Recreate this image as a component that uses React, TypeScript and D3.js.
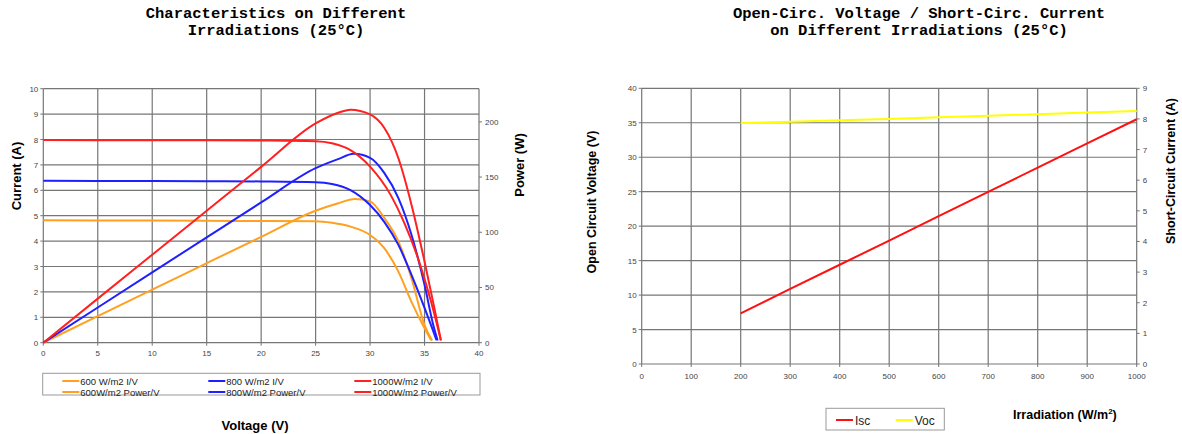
import React, { useEffect, useRef } from "react";
import * as d3 from "d3";

// ---- left chart: I/V and P/V at three irradiations ----
const ivVolt600 = [0, 5, 10, 15, 20, 25, 26.5, 28.2, 30, 31.3, 32.6, 33.8, 35, 35.6];
const ivCur600 = [4.82, 4.81, 4.81, 4.8, 4.79, 4.78, 4.72, 4.57, 4.24, 3.72, 2.8, 1.61, 0.57, 0.1];
const ivVolt800 = [0, 5, 10, 15, 20, 25, 26.5, 28.2, 30, 31.3, 32.6, 33.8, 35, 36.1];
const ivCur800 = [6.38, 6.37, 6.37, 6.36, 6.35, 6.32, 6.25, 6.01, 5.42, 4.76, 3.85, 2.67, 1.37, 0.1];
const ivVolt1000 = [0, 5, 10, 15, 20, 25, 26.5, 28.2, 30, 31.9, 33.1, 34.3, 35.6, 36.5];
const ivCur1000 = [7.98, 7.97, 7.97, 7.97, 7.96, 7.93, 7.85, 7.58, 6.93, 5.81, 4.76, 3.45, 1.61, 0.1];

const pvVolt600 = [0, 5, 10, 15, 20, 25, 27, 28.6, 30, 31.3, 32.6, 33.8, 35, 35.7];
const pvPow600 = [0, 24, 48.1, 72, 95.8, 119.5, 126, 130.2, 128, 113, 91.7, 58.5, 16, 2];
const pvVolt800 = [0, 5, 10, 15, 20, 25, 27, 28.5, 30, 31.3, 32.6, 33.8, 35, 35.8, 36.2];
const pvPow800 = [0, 31.9, 63.7, 95.4, 127, 158, 166, 171, 167.4, 153.8, 131, 97.8, 52.4, 16, 2];
const pvVolt1000 = [0, 5, 10, 15, 20, 25, 27, 28.2, 30, 31.3, 32.6, 33.8, 35, 35.9, 36.5];
const pvPow1000 = [0, 39.9, 79.7, 119.5, 159.2, 198.5, 208, 211, 206.7, 194.6, 167, 125, 73.5, 31.5, 2];

const voltTicks = [0, 5, 10, 15, 20, 25, 30, 35, 40];
const currentTicks = [0, 1, 2, 3, 4, 5, 6, 7, 8, 9, 10];
const powerTicks = [0, 50, 100, 150, 200];

const legendLeftRow1 = ["600 W/m2 I/V", "800 W/m2 I/V", "1000W/m2 I/V"];
const legendLeftRow2 = ["600W/m2 Power/V", "800W/m2 Power/V", "1000W/m2 Power/V"];
const seriesColors = ["#ffa020", "#2020ff", "#ff2020"];

// ---- right chart: Voc / Isc against irradiation ----
const irradiation = [200, 300, 400, 500, 600, 700, 800, 900, 1000];
const isc = [1.65, 2.45, 3.24, 4.03, 4.83, 5.62, 6.41, 7.2, 7.99];
const voc = [34.95, 35.15, 35.35, 35.55, 35.8, 36.0, 36.25, 36.5, 36.7];
const irrTicks = [0, 100, 200, 300, 400, 500, 600, 700, 800, 900, 1000];
const vocTicks = [0, 5, 10, 15, 20, 25, 30, 35, 40];
const iscTicks = [0, 1, 2, 3, 4, 5, 6, 7, 8, 9];

const SANS = "'Liberation Sans', Arial, sans-serif";
const MONO = "'Liberation Mono', 'Courier New', monospace";
const GRID = "#767676";
const TICKTXT = "#444";

export default function App() {
  const ref = useRef<SVGSVGElement>(null);

  useEffect(() => {
    const svg = d3.select(ref.current);
    svg.selectAll("*").remove();

    // titles
    const titles = [
      { x: 276, lines: ["Characteristics on Different", "Irradiations (25°C)"] },
      { x: 919, lines: ["Open-Circ. Voltage / Short-Circ. Current", "on Different Irradiations (25°C)"] },
    ];
    titles.forEach((t) => {
      t.lines.forEach((l, i) => {
        svg.append("text")
          .attr("x", t.x).attr("y", 18 + i * 17)
          .attr("text-anchor", "middle")
          .style("font-family", MONO).style("font-size", "15.5px").style("font-weight", "bold")
          .text(l);
      });
    });

    // ===== left chart =====
    const x = d3.scaleLinear().domain([0, 40]).range([43.3, 479]);
    const yI = d3.scaleLinear().domain([0, 10]).range([342.7, 88.7]);
    const yP = d3.scaleLinear().domain([0, 230]).range([342.7, 88.7]);
    const gL = svg.append("g");

    voltTicks.forEach((v) => {
      gL.append("line")
        .attr("x1", x(v)).attr("x2", x(v)).attr("y1", yI(0)).attr("y2", yI(10))
        .style("stroke", GRID).style("stroke-width", 1.2);
      gL.append("line")
        .attr("x1", x(v)).attr("x2", x(v)).attr("y1", yI(0)).attr("y2", yI(0) + 3)
        .style("stroke", GRID);
      gL.append("text")
        .attr("x", x(v)).attr("y", yI(0) + 13)
        .attr("text-anchor", "middle")
        .style("font-family", SANS).style("font-size", "8px").style("fill", TICKTXT)
        .text(v);
    });
    currentTicks.forEach((c) => {
      gL.append("line")
        .attr("x1", x(0)).attr("x2", x(40)).attr("y1", yI(c)).attr("y2", yI(c))
        .style("stroke", GRID).style("stroke-width", 1.2);
      gL.append("line")
        .attr("x1", x(0) - 3).attr("x2", x(0)).attr("y1", yI(c)).attr("y2", yI(c))
        .style("stroke", GRID);
      gL.append("text")
        .attr("x", x(0) - 5).attr("y", yI(c) + 3)
        .attr("text-anchor", "end")
        .style("font-family", SANS).style("font-size", "8px").style("fill", TICKTXT)
        .text(c);
    });
    powerTicks.forEach((p) => {
      gL.append("line")
        .attr("x1", x(40)).attr("x2", x(40) + 3).attr("y1", yP(p)).attr("y2", yP(p))
        .style("stroke", GRID);
      gL.append("text")
        .attr("x", x(40) + 6).attr("y", yP(p) + 3)
        .style("font-family", SANS).style("font-size", "8px").style("fill", TICKTXT)
        .text(p);
    });

    const ivSets = [
      { v: ivVolt600, y: ivCur600 },
      { v: ivVolt800, y: ivCur800 },
      { v: ivVolt1000, y: ivCur1000 },
    ];
    const pvSets = [
      { v: pvVolt600, y: pvPow600 },
      { v: pvVolt800, y: pvPow800 },
      { v: pvVolt1000, y: pvPow1000 },
    ];
    const lineI = d3.line<[number, number]>().x((d) => x(d[0])).y((d) => yI(d[1])).curve(d3.curveMonotoneX);
    const lineP = d3.line<[number, number]>().x((d) => x(d[0])).y((d) => yP(d[1])).curve(d3.curveMonotoneX);

    [0, 1, 2].forEach((i) => {
      const iv = ivSets[i].v.map((v, k) => [v, ivSets[i].y[k]] as [number, number]);
      const pv = pvSets[i].v.map((v, k) => [v, pvSets[i].y[k]] as [number, number]);
      gL.append("path").attr("d", lineI(iv))
        .style("fill", "none").style("stroke", seriesColors[i]).style("stroke-width", 2);
      gL.append("path").attr("d", lineP(pv))
        .style("fill", "none").style("stroke", seriesColors[i]).style("stroke-width", 2);
    });

    // axis labels
    gL.append("text")
      .attr("transform", "translate(21,176) rotate(-90)")
      .attr("text-anchor", "middle")
      .style("font-family", SANS).style("font-size", "13px").style("font-weight", "bold")
      .text("Current (A)");
    gL.append("text")
      .attr("transform", "translate(524,165) rotate(-90)")
      .attr("text-anchor", "middle")
      .style("font-family", SANS).style("font-size", "13px").style("font-weight", "bold")
      .text("Power (W)");
    gL.append("text")
      .attr("x", 255).attr("y", 430)
      .attr("text-anchor", "middle")
      .style("font-family", SANS).style("font-size", "13px").style("font-weight", "bold")
      .text("Voltage (V)");

    // legend
    gL.append("rect")
      .attr("x", 42.7).attr("y", 373.3).attr("width", 437.3).attr("height", 21.7)
      .style("fill", "white").style("stroke", "#999");
    const colX = [62.3, 208.3, 354.3];
    [legendLeftRow1, legendLeftRow2].forEach((row, r) => {
      row.forEach((label, c) => {
        const yy = 381 + r * 11;
        gL.append("line")
          .attr("x1", colX[c]).attr("x2", colX[c] + 17).attr("y1", yy).attr("y2", yy)
          .style("stroke", seriesColors[c]).style("stroke-width", 2);
        gL.append("text")
          .attr("x", colX[c] + 18).attr("y", yy + 3.5)
          .style("font-family", SANS).style("font-size", "9.5px").style("fill", "#222")
          .text(label);
      });
    });

    // ===== right chart =====
    const xr = d3.scaleLinear().domain([0, 1000]).range([641.7, 1136.7]);
    const yV = d3.scaleLinear().domain([0, 40]).range([364, 88.3]);
    const yA = d3.scaleLinear().domain([0, 9]).range([364, 88.3]);
    const gR = svg.append("g");

    irrTicks.forEach((t) => {
      gR.append("line")
        .attr("x1", xr(t)).attr("x2", xr(t)).attr("y1", yV(0)).attr("y2", yV(40))
        .style("stroke", GRID).style("stroke-width", 1.2);
      gR.append("line")
        .attr("x1", xr(t)).attr("x2", xr(t)).attr("y1", yV(0)).attr("y2", yV(0) + 3)
        .style("stroke", GRID);
      gR.append("text")
        .attr("x", xr(t)).attr("y", yV(0) + 15)
        .attr("text-anchor", "middle")
        .style("font-family", SANS).style("font-size", "8px").style("fill", TICKTXT)
        .text(t);
    });
    vocTicks.forEach((t) => {
      gR.append("line")
        .attr("x1", xr(0)).attr("x2", xr(1000)).attr("y1", yV(t)).attr("y2", yV(t))
        .style("stroke", GRID).style("stroke-width", 1.2);
      gR.append("line")
        .attr("x1", xr(0) - 3).attr("x2", xr(0)).attr("y1", yV(t)).attr("y2", yV(t))
        .style("stroke", GRID);
      gR.append("text")
        .attr("x", xr(0) - 5).attr("y", yV(t) + 3)
        .attr("text-anchor", "end")
        .style("font-family", SANS).style("font-size", "8px").style("fill", TICKTXT)
        .text(t);
    });
    iscTicks.forEach((t) => {
      gR.append("line")
        .attr("x1", xr(1000)).attr("x2", xr(1000) + 3).attr("y1", yA(t)).attr("y2", yA(t))
        .style("stroke", GRID);
      gR.append("text")
        .attr("x", xr(1000) + 6).attr("y", yA(t) + 3)
        .style("font-family", SANS).style("font-size", "8px").style("fill", TICKTXT)
        .text(t);
    });

    const iscLine = d3.line<number>().x((d, k) => xr(irradiation[k])).y((d) => yA(d));
    const vocLine = d3.line<number>().x((d, k) => xr(irradiation[k])).y((d) => yV(d));
    gR.append("path").attr("d", iscLine(isc))
      .style("fill", "none").style("stroke", "#ff1010").style("stroke-width", 2);
    gR.append("path").attr("d", vocLine(voc))
      .style("fill", "none").style("stroke", "#ffff00").style("stroke-width", 2);

    gR.append("text")
      .attr("transform", "translate(596,202) rotate(-90)")
      .attr("text-anchor", "middle")
      .style("font-family", SANS).style("font-size", "12.5px").style("font-weight", "bold")
      .text("Open Circuit Voltage (V)");
    gR.append("text")
      .attr("transform", "translate(1175,171) rotate(-90)")
      .attr("text-anchor", "middle")
      .style("font-family", SANS).style("font-size", "12.5px").style("font-weight", "bold")
      .text("Short-Circuit Current (A)");
    const irr = gR.append("text")
      .attr("x", 1013).attr("y", 419)
      .style("font-family", SANS).style("font-size", "12.5px").style("font-weight", "bold");
    irr.append("tspan").text("Irradiation (W/m");
    irr.append("tspan").attr("dy", -5).style("font-size", "8px").text("2");
    irr.append("tspan").attr("dy", 5).text(")");

    // right legend
    gR.append("rect")
      .attr("x", 826).attr("y", 408.3).attr("width", 118.3).attr("height", 21.7)
      .style("fill", "white").style("stroke", "#999");
    const rl = [
      { label: "Isc", color: "#ff1010", x: 836 },
      { label: "Voc", color: "#ffff00", x: 895.7 },
    ];
    rl.forEach((d) => {
      gR.append("line")
        .attr("x1", d.x).attr("x2", d.x + 17).attr("y1", 420).attr("y2", 420)
        .style("stroke", d.color).style("stroke-width", 2);
      gR.append("text")
        .attr("x", d.x + 19).attr("y", 424.5)
        .style("font-family", SANS).style("font-size", "12px").style("fill", "#222")
        .text(d.label);
    });
  }, []);

  return (
    <svg
      ref={ref}
      width={1182}
      height={434}
      style={{ position: "absolute", left: 0, top: 0, background: "white" }}
    />
  );
}
